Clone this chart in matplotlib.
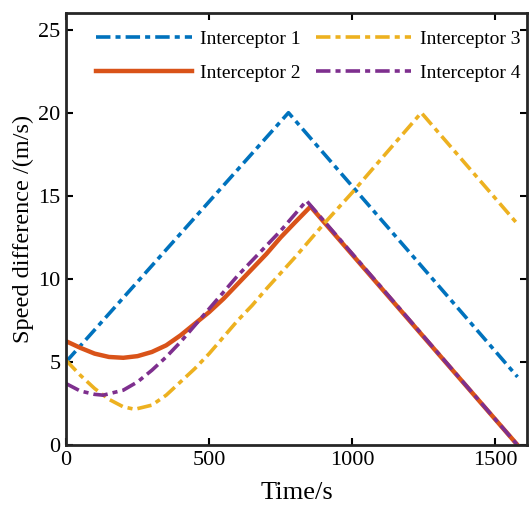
import matplotlib
matplotlib.use("Agg")
import matplotlib.pyplot as plt

# Interceptor 1
t1 = [0, 777, 1577]
v1 = [5.0, 20.0, 4.1]
# Interceptor 2
t2 = [0, 50, 100, 150, 200, 250, 300, 350, 400, 450, 500, 550, 600, 650, 700, 750, 800, 854, 1577]
v2 = [6.25, 5.85, 5.5, 5.3, 5.25, 5.35, 5.6, 6.0, 6.6, 7.3, 8.0, 8.8, 9.7, 10.6, 11.5, 12.5, 13.4, 14.35, 0.0]
# Interceptor 3
t3 = [0, 50, 100, 150, 200, 240, 300, 350, 400, 450, 500, 550, 600, 650, 700, 800, 900, 1000, 1100, 1241, 1577]
v3 = [5.1, 4.2, 3.4, 2.75, 2.3, 2.15, 2.4, 3.0, 3.8, 4.6, 5.5, 6.5, 7.5, 8.4, 9.4, 11.3, 13.3, 15.2, 17.2, 20.0, 13.3]
# Interceptor 4
t4 = [0, 50, 100, 130, 200, 250, 300, 350, 400, 450, 500, 550, 600, 650, 700, 750, 800, 840, 1577]
v4 = [3.7, 3.25, 3.05, 3.0, 3.3, 3.8, 4.5, 5.3, 6.2, 7.2, 8.2, 9.2, 10.2, 11.1, 12.0, 12.9, 13.9, 14.7, 0.0]

labels = ["Interceptor 1", "Interceptor 2", "Interceptor 3", "Interceptor 4"]
xticks = [0, 500, 1000, 1500]
yticks = [0, 5, 10, 15, 20, 25]

plt.rcParams['font.family'] = ['Liberation Serif', 'DejaVu Serif']

fig = plt.figure(figsize=(5.30, 5.14), dpi=100)
ax = fig.add_axes([0.1245, 0.1342, 0.8698, 0.8405])

dd = (0, (4, 1.4, 1.4, 1.4))
ax.plot(t1, v1, color='#0072BD', lw=2.6, linestyle=dd, label=labels[0])
ax.plot(t2, v2, color='#D95319', lw=3.2, linestyle='-', label=labels[1])
ax.plot(t3, v3, color='#EDB120', lw=2.6, linestyle=dd, label=labels[2])
ax.plot(t4, v4, color='#7E2F8E', lw=2.6, linestyle=dd, label=labels[3])

ax.set_xlim(0, 1610)
ax.set_ylim(0, 26)
ax.set_xticks(xticks)
ax.set_yticks(yticks)
ax.tick_params(direction='in', top=True, right=True, labelsize=16, width=1.5, length=5, pad=4)
for s in ax.spines.values():
    s.set_linewidth(2.0)
    s.set_color('#262626')

ax.set_xlabel("Time/s", fontsize=19, labelpad=9)
ax.set_ylabel("Speed difference /(m/s)", fontsize=17.5, labelpad=3)

leg = ax.legend(ncol=2, frameon=False, fontsize=14, handlelength=4.9,
                loc='upper left', bbox_to_anchor=(0.028, 1.0), columnspacing=0.75,
                handletextpad=0.45, labelspacing=0.85)

fig.savefig("out.png", dpi=100)
